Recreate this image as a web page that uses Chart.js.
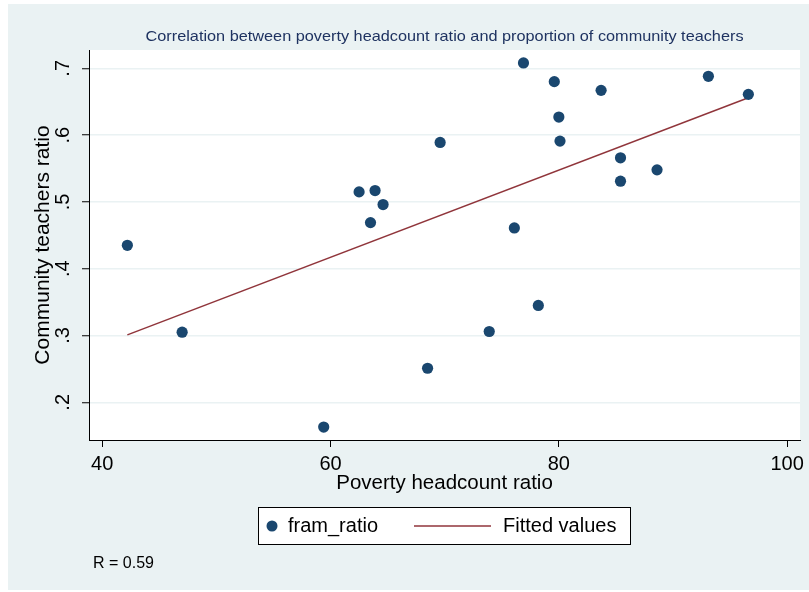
<!DOCTYPE html>
<html>
<head>
<meta charset="utf-8">
<script src="https://cdn.jsdelivr.net/npm/chart.js@4.4.1/dist/chart.umd.min.js"></script>
<style>
  html, body { margin: 0; padding: 0; background: #ffffff; }
  canvas { display: block; }
</style>
</head>
<body>
<canvas id="corrChart" width="809" height="592"></canvas>
<script>
// values
const povertyRatio = [42.2, 47.0, 59.4, 62.5, 63.9, 64.6, 63.5, 69.6, 68.5, 76.9, 79.6,
                      83.7, 93.1, 96.6, 80.0, 80.1, 85.4, 85.4, 88.6, 76.1, 78.2, 73.9];
const framRatio = [0.435, 0.305, 0.163, 0.515, 0.517, 0.496, 0.469, 0.589, 0.251, 0.708, 0.680,
                   0.667, 0.688, 0.661, 0.627, 0.591, 0.566, 0.531, 0.548, 0.461, 0.345, 0.306];
const fitX = [42.2, 96.6];
const fitY = [0.301, 0.656];

const xTicks = [40, 60, 80, 100];
const yTicks = [0.2, 0.3, 0.4, 0.5, 0.6, 0.7];
const yTickLabels = ['.2', '.3', '.4', '.5', '.6', '.7'];

const chartTitle = 'Correlation between poverty headcount ratio and proportion of community teachers';
const noteText = 'R = 0.59';

const FONT = '"Liberation Sans", Arial, sans-serif';
const BG = '#eaf2f3';
const NAVY = '#1a476f';
const MAROON = '#90353b';

// Stata-like page: bluish background, white plot region, rotated y labels, boxed legend
const stataLook = {
    id: 'stataLook',
    beforeDraw(chart) {
        const ctx = chart.ctx;
        const a = chart.chartArea;
        ctx.save();
        ctx.fillStyle = '#ffffff';
        ctx.fillRect(0, 0, chart.width, chart.height);
        ctx.fillStyle = BG;
        ctx.fillRect(8, 4, chart.width - 8, chart.height - 6);
        ctx.fillStyle = '#ffffff';
        ctx.fillRect(a.left, a.top, a.right - a.left, a.bottom - a.top);
        ctx.restore();
    },
    afterDraw(chart) {
        const ctx = chart.ctx;
        const a = chart.chartArea;
        const yScale = chart.scales.y;
        ctx.save();

        // title (Stata renders it a little wider than the font)
        ctx.save();
        ctx.fillStyle = '#1f3361';
        ctx.font = '15px ' + FONT;
        ctx.textAlign = 'center';
        ctx.textBaseline = 'middle';
        ctx.translate((a.left + a.right) / 2, 37);
        ctx.scale(1.085, 1);
        ctx.fillText(chartTitle, 0, 0);
        ctx.restore();

        // y tick labels, rotated like Stata
        ctx.fillStyle = '#000000';
        ctx.font = '20px ' + FONT;
        ctx.textAlign = 'center';
        ctx.textBaseline = 'alphabetic';
        yTicks.forEach((v, i) => {
            const py = yScale.getPixelForValue(v);
            ctx.save();
            ctx.translate(69, py);
            ctx.rotate(-Math.PI / 2);
            ctx.fillText(yTickLabels[i], 0, 0);
            ctx.restore();
        });

        // legend box
        ctx.fillStyle = '#ffffff';
        ctx.fillRect(258, 507, 373, 37);
        ctx.strokeStyle = '#000000';
        ctx.lineWidth = 1;
        ctx.strokeRect(258.5, 507.5, 372, 37);

        const ds = chart.data.datasets;
        ctx.fillStyle = ds[0].backgroundColor;
        ctx.beginPath();
        ctx.arc(272, 526, 5.5, 0, Math.PI * 2);
        ctx.fill();

        ctx.strokeStyle = ds[1].borderColor;
        ctx.lineWidth = 1.5;
        ctx.beginPath();
        ctx.moveTo(414, 526);
        ctx.lineTo(491, 526);
        ctx.stroke();

        ctx.fillStyle = '#000000';
        ctx.font = '20px ' + FONT;
        ctx.textAlign = 'left';
        ctx.textBaseline = 'middle';
        ctx.fillText(ds[0].label, 288, 526);
        ctx.fillText(ds[1].label, 503, 526);

        // note
        ctx.font = '16px ' + FONT;
        ctx.fillText(noteText, 93, 564);
        ctx.restore();
    }
};

const ctx = document.getElementById('corrChart');

new Chart(ctx, {
    type: 'scatter',
    data: {
        datasets: [{
            label: 'fram_ratio',
            data: povertyRatio.map((x, i) => ({ x: x, y: framRatio[i] })),
            backgroundColor: NAVY,
            borderColor: NAVY,
            borderWidth: 0,
            pointRadius: 5.6,
            order: 1
        }, {
            label: 'Fitted values',
            type: 'line',
            data: fitX.map((x, i) => ({ x: x, y: fitY[i] })),
            borderColor: MAROON,
            backgroundColor: MAROON,
            borderWidth: 1.5,
            pointRadius: 0,
            showLine: true,
            fill: false,
            order: 2
        }]
    },
    options: {
        responsive: false,
        animation: false,
        devicePixelRatio: 1,
        layout: { padding: { left: 0, right: 8, top: 50, bottom: 0 } },
        plugins: {
            legend: { display: false },
            title: { display: false },
            tooltip: { enabled: false }
        },
        scales: {
            x: {
                type: 'linear',
                min: 38.84,
                max: 101.13,
                afterBuildTicks: scale => { scale.ticks = xTicks.map(v => ({ value: v })); },
                afterFit: scale => { scale.height = 152; },
                border: { display: true, color: '#000000', width: 1 },
                grid: { drawOnChartArea: false, drawTicks: true, tickLength: 7, tickColor: '#000000', tickWidth: 1 },
                ticks: {
                    autoSkip: false,
                    maxRotation: 0,
                    padding: 5,
                    color: '#000000',
                    font: { family: FONT, size: 20 },
                    callback: v => String(v)
                },
                title: {
                    display: true,
                    text: 'Poverty headcount ratio',
                    color: '#000000',
                    font: { family: FONT, size: 20.5 },
                    padding: { top: 0, bottom: 96 }
                }
            },
            y: {
                type: 'linear',
                min: 0.1436,
                max: 0.7274,
                afterBuildTicks: scale => { scale.ticks = yTicks.map(v => ({ value: v })); },
                afterFit: scale => { scale.width = 89; },
                border: { display: true, color: '#000000', width: 1 },
                grid: { color: BG, lineWidth: 1.5, drawTicks: true, tickLength: 7, tickColor: '#000000', tickWidth: 1 },
                ticks: { display: false },
                title: {
                    display: true,
                    text: 'Community teachers ratio',
                    color: '#000000',
                    font: { family: FONT, size: 21 },
                    padding: { top: 31, bottom: 0 }
                }
            }
        }
    },
    plugins: [stataLook]
});
</script>
</body>
</html>
